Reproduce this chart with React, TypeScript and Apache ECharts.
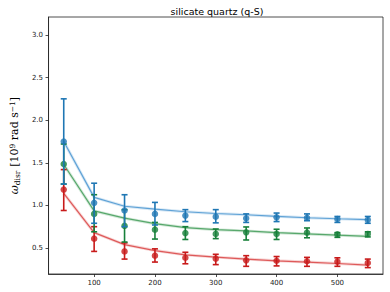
import React, { useEffect, useRef } from "react";
import * as echarts from "echarts";

const xs = [50, 100, 150, 200, 250, 300, 350, 400, 450, 500, 550];

const blueVal = [1.75, 1.03, 0.94, 0.9, 0.88, 0.868, 0.848, 0.86, 0.855, 0.84, 0.83];
const blueLow = [1.25, 0.79, 0.75, 0.77, 0.81, 0.795, 0.8, 0.81, 0.82, 0.8, 0.79];
const blueHigh = [2.25, 1.26, 1.125, 1.035, 0.95, 0.95, 0.9, 0.91, 0.9, 0.87, 0.87];
const blueFit = [1.75, 1.094, 0.99, 0.955, 0.925, 0.905, 0.89, 0.872, 0.855, 0.843, 0.832];

const greenVal = [1.485, 0.9, 0.76, 0.715, 0.675, 0.665, 0.684, 0.665, 0.68, 0.66, 0.665];
const greenLow = [1.25, 0.69, 0.57, 0.605, 0.6, 0.61, 0.594, 0.6, 0.62, 0.625, 0.63];
const greenHigh = [1.72, 1.125, 0.95, 0.8, 0.75, 0.723, 0.747, 0.72, 0.735, 0.68, 0.69];
const greenFit = [1.48, 0.935, 0.85, 0.785, 0.74, 0.715, 0.7, 0.68, 0.665, 0.65, 0.637];

const redVal = [1.185, 0.61, 0.46, 0.41, 0.385, 0.375, 0.355, 0.35, 0.345, 0.34, 0.325];
const redLow = [0.94, 0.46, 0.37, 0.335, 0.315, 0.305, 0.285, 0.29, 0.285, 0.285, 0.27];
const redHigh = [1.42, 0.75, 0.56, 0.49, 0.45, 0.426, 0.41, 0.4, 0.39, 0.385, 0.37];
const redFit = [1.14, 0.68, 0.54, 0.47, 0.42, 0.393, 0.37, 0.35, 0.335, 0.318, 0.3];

const xTicks = [100, 200, 300, 400, 500];
const yTicks = [0.5, 1.0, 1.5, 2.0, 2.5, 3.0];

const title = "silicate quartz (q-S)";

type Grp = {
  name: string;
  val: number[];
  low: number[];
  high: number[];
  fit: number[];
  color: string;
  lineColor: string;
};

const groups: Grp[] = [
  { name: "red", val: redVal, low: redLow, high: redHigh, fit: redFit, color: "#c81a1a", lineColor: "#de5a5a" },
  { name: "green", val: greenVal, low: greenLow, high: greenHigh, fit: greenFit, color: "#17803a", lineColor: "#58a86c" },
  { name: "blue", val: blueVal, low: blueLow, high: blueHigh, fit: blueFit, color: "#1f77b4", lineColor: "#5fa2d6" },
];

export default function App() {
  const ref = useRef<HTMLDivElement>(null);
  useEffect(() => {
    if (!ref.current) return;
    const chart = echarts.init(ref.current, null, { renderer: "svg" });
    const series: any[] = [];
    groups.forEach((g, gi) => {
      series.push({
        type: "line",
        name: g.name + "-halo",
        data: xs.map((x, i) => [x, g.fit[i]]),
        showSymbol: false,
        lineStyle: { color: g.lineColor, width: 3, opacity: 0.25 },
        z: 1,
        silent: true,
      });
      series.push({
        type: "line",
        name: g.name + "-fit",
        data: xs.map((x, i) => [x, g.fit[i]]),
        showSymbol: false,
        lineStyle: { color: g.lineColor, width: 1.2 },
        z: 2,
        silent: true,
      });
      series.push({
        type: "custom",
        name: g.name + "-err",
        data: xs.map((x, i) => [x, g.low[i], g.high[i]]),
        z: 3 + gi * 2,
        renderItem: (params: any, api: any) => {
          const x = api.value(0);
          const lo = api.coord([x, api.value(1)]);
          const hi = api.coord([x, api.value(2)]);
          const cw = 3;
          const style = { stroke: g.color, lineWidth: 1.6 };
          return {
            type: "group",
            children: [
              { type: "line", shape: { x1: lo[0], y1: lo[1], x2: hi[0], y2: hi[1] }, style },
              { type: "line", shape: { x1: lo[0] - cw, y1: lo[1], x2: lo[0] + cw, y2: lo[1] }, style },
              { type: "line", shape: { x1: hi[0] - cw, y1: hi[1], x2: hi[0] + cw, y2: hi[1] }, style },
            ],
          };
        },
      });
      series.push({
        type: "scatter",
        name: g.name,
        data: xs.map((x, i) => [x, g.val[i]]),
        symbol: "circle",
        symbolSize: 6.5,
        itemStyle: { color: g.color },
        z: 4 + gi * 2,
      });
    });

    chart.setOption({
      animation: false,
      title: {
        text: title,
        left: 212,
        textAlign: "center",
        top: 1,
        textStyle: { fontFamily: "DejaVu Sans", fontSize: 9.5, fontWeight: "normal", color: "#000" },
      },
      grid: {
        left: 42,
        right: 7,
        top: 17,
        bottom: 18,
        show: true,
        borderColor: "#222",
        borderWidth: 0.8,
        backgroundColor: "transparent",
      },
      xAxis: {
        type: "value",
        min: 25,
        max: 575,
        splitLine: { show: false },
        axisLine: { show: true, onZero: false, lineStyle: { color: "#222", width: 0.8 } },
        axisTick: { show: true, length: 3, customValues: xTicks, lineStyle: { color: "#222", width: 0.8 } },
        axisLabel: {
          customValues: xTicks,
          fontFamily: "DejaVu Sans",
          fontSize: 7,
          color: "#222",
          margin: 5,
        },
      },
      yAxis: {
        type: "value",
        min: 0.195,
        max: 3.21,
        splitLine: { show: false },
        axisLine: { show: true, onZero: false, lineStyle: { color: "#222", width: 0.8 } },
        axisTick: { show: true, length: 3, customValues: yTicks, lineStyle: { color: "#222", width: 0.8 } },
        axisLabel: {
          customValues: yTicks,
          formatter: (v: number) => v.toFixed(1),
          fontFamily: "DejaVu Sans",
          fontSize: 7,
          color: "#222",
          margin: 5.5,
        },
        name: "{w|ω}{sub|disr} {n|[10}{sup|9}{n| rad s}{sup|−1}{n|]}",
        nameLocation: "middle",
        nameRotate: 90,
        nameGap: 22,
        nameTextStyle: {
          fontFamily: "DejaVu Serif",
          color: "#000",
          rich: {
            w: { fontFamily: "DejaVu Serif", fontStyle: "italic", fontSize: 11, color: "#000" },
            sub: { fontFamily: "DejaVu Serif", fontSize: 7.5, color: "#000", verticalAlign: "bottom", padding: [4, 0, 0, 0] },
            n: { fontFamily: "DejaVu Serif", fontSize: 11, color: "#000" },
            sup: { fontFamily: "DejaVu Serif", fontSize: 7.5, color: "#000", verticalAlign: "top", padding: [0, 0, 5, 0] },
          },
        },
      },
      series,
    });
    return () => chart.dispose();
  }, []);
  return (
    <div
      ref={ref}
      style={{ position: "absolute", left: 0, top: 0, width: 390, height: 292, background: "#fff" }}
    />
  );
}
